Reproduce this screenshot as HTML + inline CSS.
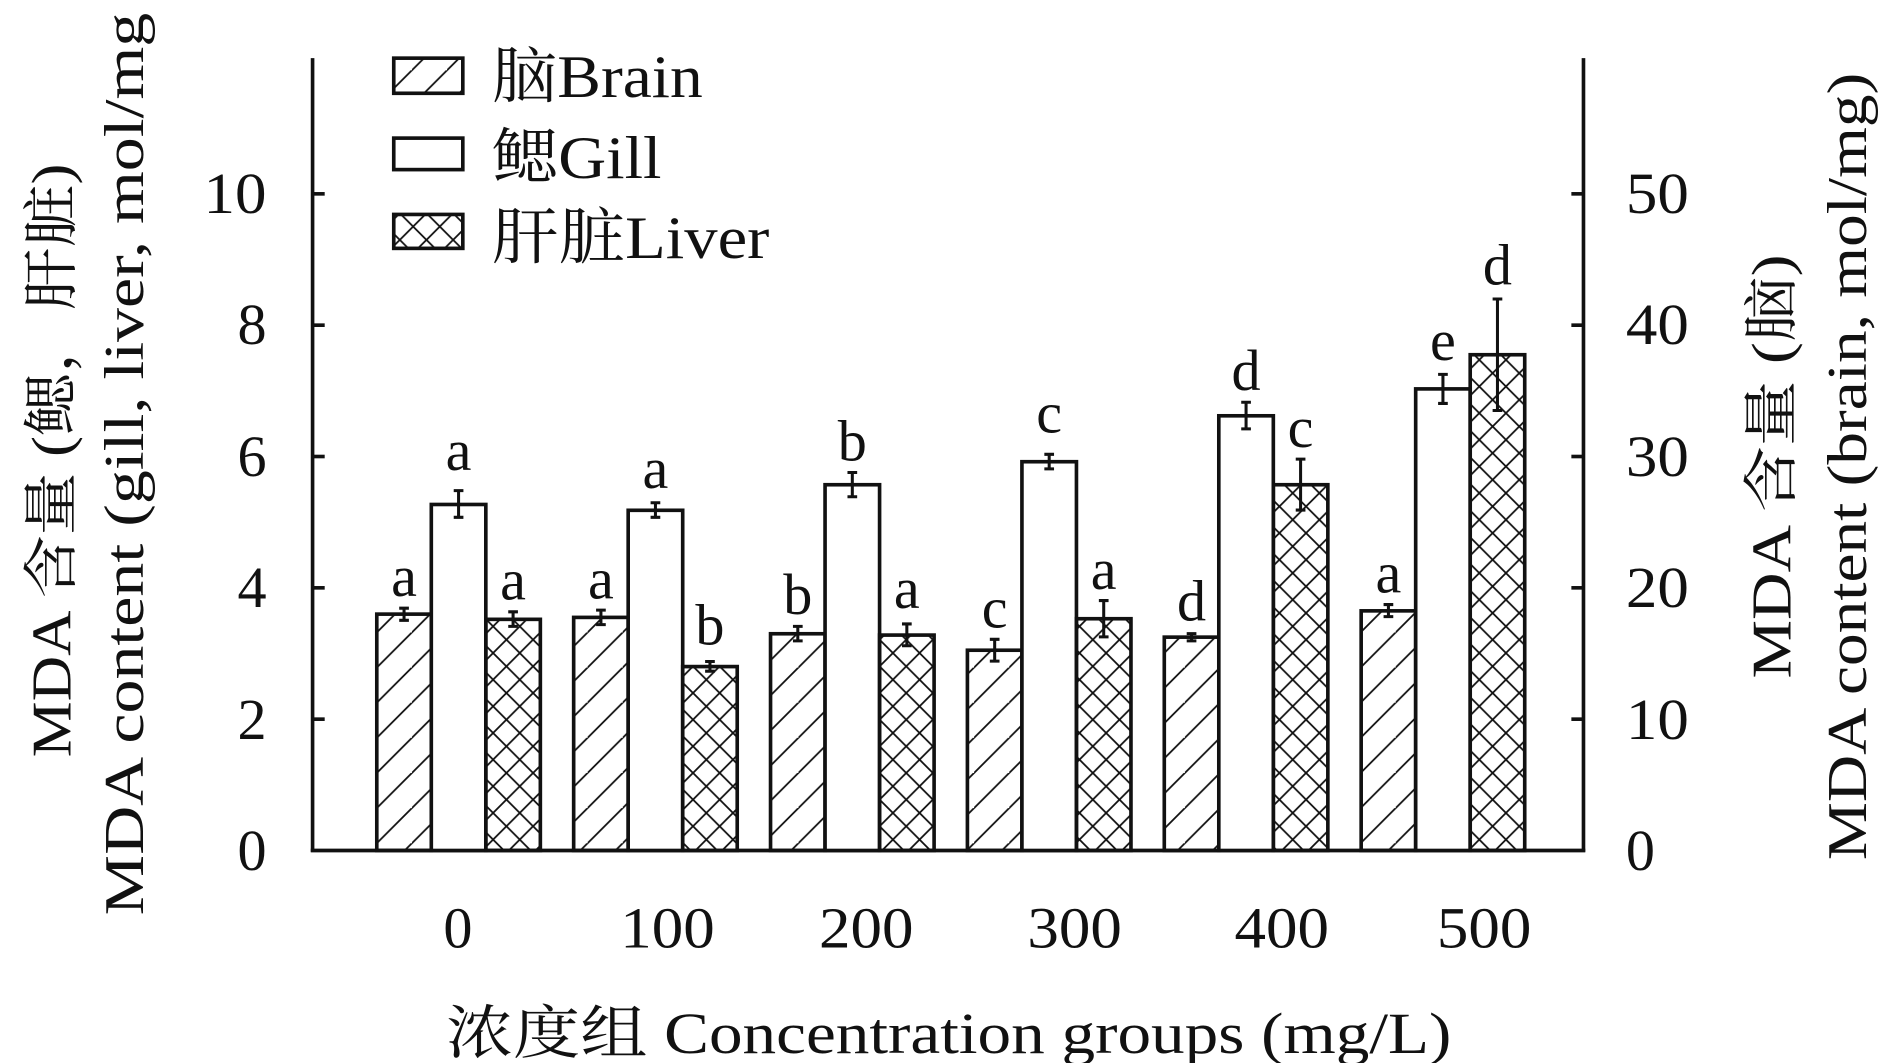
<!DOCTYPE html>
<html><head><meta charset="utf-8"><style>
html,body{margin:0;padding:0;background:#fff;}
svg{display:block;}
text{font-family:"Liberation Serif","Noto Serif CJK SC","Noto Sans CJK SC",serif;fill:#111;}
</style></head><body>
<svg width="1890" height="1063" viewBox="0 0 1560 877.4" preserveAspectRatio="none" xmlns="http://www.w3.org/2000/svg">
<defs>
<pattern id="diag" patternUnits="userSpaceOnUse" width="29" height="29" patternTransform="translate(311,0)">
<path d="M-2,31 L31,-2 M-31,31 L2,-2 M27,60 L60,27" stroke="#111" stroke-width="1.5"/>
</pattern>
<pattern id="cross" patternUnits="userSpaceOnUse" width="22" height="22">
<path d="M0,0 L22,22 M22,0 L0,22" stroke="#111" stroke-width="1.5"/>
</pattern>
</defs>
<g stroke="#111" stroke-width="3" fill="none">
<line x1="258" y1="48" x2="258" y2="703"/>
<line x1="1307" y1="48" x2="1307" y2="703"/>
<line x1="256.5" y1="702" x2="1308.5" y2="702"/>
<line x1="258" y1="160" x2="268" y2="160"/>
<line x1="258" y1="268.4" x2="268" y2="268.4"/>
<line x1="258" y1="376.8" x2="268" y2="376.8"/>
<line x1="258" y1="485.2" x2="268" y2="485.2"/>
<line x1="258" y1="593.6" x2="268" y2="593.6"/>
<line x1="1297" y1="160" x2="1307" y2="160"/>
<line x1="1297" y1="268.4" x2="1307" y2="268.4"/>
<line x1="1297" y1="376.8" x2="1307" y2="376.8"/>
<line x1="1297" y1="485.2" x2="1307" y2="485.2"/>
<line x1="1297" y1="593.6" x2="1307" y2="593.6"/>
</g>
<g stroke="#111" stroke-width="3">
<rect x="311" y="506.9" width="45" height="195.1" fill="url(#diag)"/>
<rect x="356" y="416.4" width="45" height="285.6" fill="#fff"/>
<rect x="401" y="511.2" width="45" height="190.8" fill="url(#cross)"/>
<rect x="473.5" y="509.6" width="45" height="192.4" fill="url(#diag)"/>
<rect x="518.5" y="421.2" width="45" height="280.8" fill="#fff"/>
<rect x="563.5" y="550.2" width="45" height="151.8" fill="url(#cross)"/>
<rect x="636" y="523.1" width="45" height="178.9" fill="url(#diag)"/>
<rect x="681" y="400.1" width="45" height="301.9" fill="#fff"/>
<rect x="726" y="524.2" width="45" height="177.8" fill="url(#cross)"/>
<rect x="798.5" y="536.7" width="45" height="165.3" fill="url(#diag)"/>
<rect x="843.5" y="381.1" width="45" height="320.9" fill="#fff"/>
<rect x="888.5" y="510.7" width="45" height="191.3" fill="url(#cross)"/>
<rect x="961" y="525.9" width="45" height="176.1" fill="url(#diag)"/>
<rect x="1006" y="343.2" width="45" height="358.8" fill="#fff"/>
<rect x="1051" y="400.1" width="45" height="301.9" fill="url(#cross)"/>
<rect x="1123.5" y="504.2" width="45" height="197.8" fill="url(#diag)"/>
<rect x="1168.5" y="321" width="45" height="381" fill="#fff"/>
<rect x="1213.5" y="292.8" width="45" height="409.2" fill="url(#cross)"/>
</g>
<g stroke="#111" stroke-width="2.5" fill="none">
<path d="M333.5,502V512M329.5,502H337.5M329.5,512H337.5"/>
<path d="M378.5,405V427M374.5,405H382.5M374.5,427H382.5"/>
<path d="M423.5,505V517M419.5,505H427.5M419.5,517H427.5"/>
<path d="M496,503.6V515.6M492,503.6H500M492,515.6H500"/>
<path d="M541,415V427M537,415H545M537,427H545"/>
<path d="M586,546V554M582,546H590M582,554H590"/>
<path d="M658.5,517V529M654.5,517H662.5M654.5,529H662.5"/>
<path d="M703.5,390V410M699.5,390H707.5M699.5,410H707.5"/>
<path d="M748.5,515V533M744.5,515H752.5M744.5,533H752.5"/>
<path d="M821,527.7V545.7M817,527.7H825M817,545.7H825"/>
<path d="M866,375V387M862,375H870M862,387H870"/>
<path d="M911,495.7V525.7M907,495.7H915M907,525.7H915"/>
<path d="M983.5,523V529M979.5,523H987.5M979.5,529H987.5"/>
<path d="M1028.5,332V354M1024.5,332H1032.5M1024.5,354H1032.5"/>
<path d="M1073.5,379V421M1069.5,379H1077.5M1069.5,421H1077.5"/>
<path d="M1146,499V509M1142,499H1150M1142,509H1150"/>
<path d="M1191,309V333M1187,309H1195M1187,333H1195"/>
<path d="M1236,246.8V338.8M1232,246.8H1240M1232,338.8H1240"/>
</g>
<g font-size="48" text-anchor="middle">
<text x="333.5" y="492">a</text><text x="378.5" y="388">a</text><text x="423.5" y="495">a</text>
<text x="496" y="494">a</text><text x="541" y="403">a</text><text x="586" y="532">b</text>
<text x="658.5" y="507">b</text><text x="703.5" y="380">b</text><text x="748.5" y="502">a</text>
<text x="821" y="518">c</text><text x="866" y="357">c</text><text x="911" y="486">a</text>
<text x="983.5" y="512">d</text><text x="1028.5" y="322">d</text><text x="1073.5" y="369">c</text>
<text x="1146" y="489">a</text><text x="1191" y="297">e</text><text x="1236" y="235">d</text>
</g>
<g font-size="48" text-anchor="end">
<text x="220" y="718">0</text><text x="220" y="610">2</text><text x="220" y="501">4</text>
<text x="220" y="393">6</text><text x="220" y="284">8</text><text x="220" y="176" textLength="52" lengthAdjust="spacingAndGlyphs">10</text>
</g>
<g font-size="48" text-anchor="start">
<text x="1342" y="718">0</text>
<text x="1342" y="610" textLength="52" lengthAdjust="spacingAndGlyphs">10</text>
<text x="1342" y="501" textLength="52" lengthAdjust="spacingAndGlyphs">20</text>
<text x="1342" y="393" textLength="52" lengthAdjust="spacingAndGlyphs">30</text>
<text x="1342" y="284" textLength="52" lengthAdjust="spacingAndGlyphs">40</text>
<text x="1342" y="176" textLength="52" lengthAdjust="spacingAndGlyphs">50</text>
</g>
<g font-size="48" text-anchor="middle">
<text x="378" y="782">0</text>
<text x="551" y="782" textLength="78" lengthAdjust="spacingAndGlyphs">100</text>
<text x="715" y="782" textLength="78" lengthAdjust="spacingAndGlyphs">200</text>
<text x="887" y="782" textLength="78" lengthAdjust="spacingAndGlyphs">300</text>
<text x="1058" y="782" textLength="78" lengthAdjust="spacingAndGlyphs">400</text>
<text x="1225" y="782" textLength="78" lengthAdjust="spacingAndGlyphs">500</text>
</g>
<text x="783" y="869" font-size="48" text-anchor="middle" textLength="830" lengthAdjust="spacingAndGlyphs">浓度组 Concentration groups (mg/L)</text>
<text transform="translate(58,380) rotate(-90)" font-size="46" text-anchor="middle" textLength="490" lengthAdjust="spacingAndGlyphs">MDA 含量 (鳃，肝脏)</text>
<text transform="translate(118,383) rotate(-90)" font-size="46" text-anchor="middle" textLength="745" lengthAdjust="spacingAndGlyphs">MDA content (gill, liver, mol/mg</text>
<text transform="translate(1478,385) rotate(-90)" font-size="46" text-anchor="middle" textLength="350" lengthAdjust="spacingAndGlyphs">MDA 含量 (脑)</text>
<text transform="translate(1540,385) rotate(-90)" font-size="46" text-anchor="middle" textLength="650" lengthAdjust="spacingAndGlyphs">MDA content (brain, mol/mg)</text>
<g stroke="#111" stroke-width="3">
<rect x="325" y="48" width="57" height="29" fill="url(#diag)"/>
<rect x="325" y="114" width="57" height="26" fill="#fff"/>
<rect x="325" y="177" width="57" height="28" fill="url(#cross)"/>
</g>
<g font-size="50">
<text x="406" y="80" textLength="174" lengthAdjust="spacingAndGlyphs">脑Brain</text>
<text x="406" y="147" textLength="140" lengthAdjust="spacingAndGlyphs">鳃Gill</text>
<text x="406" y="213" textLength="229" lengthAdjust="spacingAndGlyphs">肝脏Liver</text>
</g>
</svg>
</body></html>
